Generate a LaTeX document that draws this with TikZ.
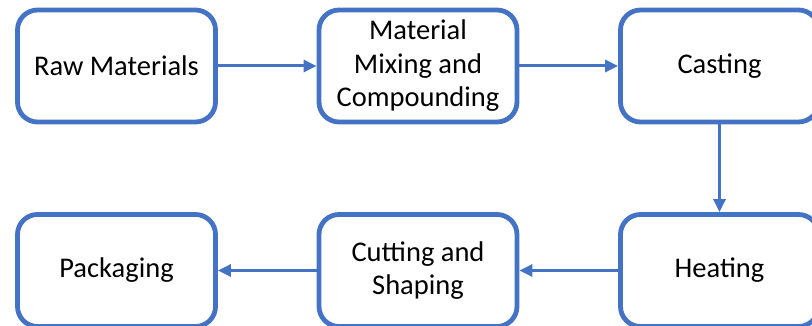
\documentclass[tikz,border=0pt]{standalone}
\usepackage{fontspec}
\setmainfont{Carlito}
\usepackage{tikz}
\usetikzlibrary{arrows.meta}

\definecolor{stepblue}{HTML}{4472C4}

\tikzset{
    process/.style={draw=stepblue, line width=4.8pt, rounded corners=20pt, fill=white,
        minimum width=198pt, minimum height=112pt, align=center, text=black,
        font=\fontsize{28.5}{33.5}\selectfont},
    flow/.style={draw=stepblue, line width=3pt, -{Triangle[length=13pt,width=12pt]}}
}

\begin{document}
\begin{tikzpicture}[x=1pt, y=-1pt]
        \useasboundingbox (0,0) rectangle (812,326);
        \node[process] (raw) at (116.5,66) {Raw Materials};
        \node[process] (mix) at (418,66) {Material\\Mixing and\\Compounding};
        \node[process] (cast) at (719.5,66) {Casting};
        \node[process] (heat) at (719.5,270.5) {Heating};
        \node[process] (cut) at (418,270.5) {Cutting and\\Shaping};
        \node[process] (pack) at (116.5,270.5) {Packaging};
        \draw[flow] (raw) -- (mix);
        \draw[flow] (mix) -- (cast);
        \draw[flow] (cast) -- (heat);
        \draw[flow] (heat) -- (cut);
        \draw[flow] (cut) -- (pack);
    \end{tikzpicture}
\end{document}
